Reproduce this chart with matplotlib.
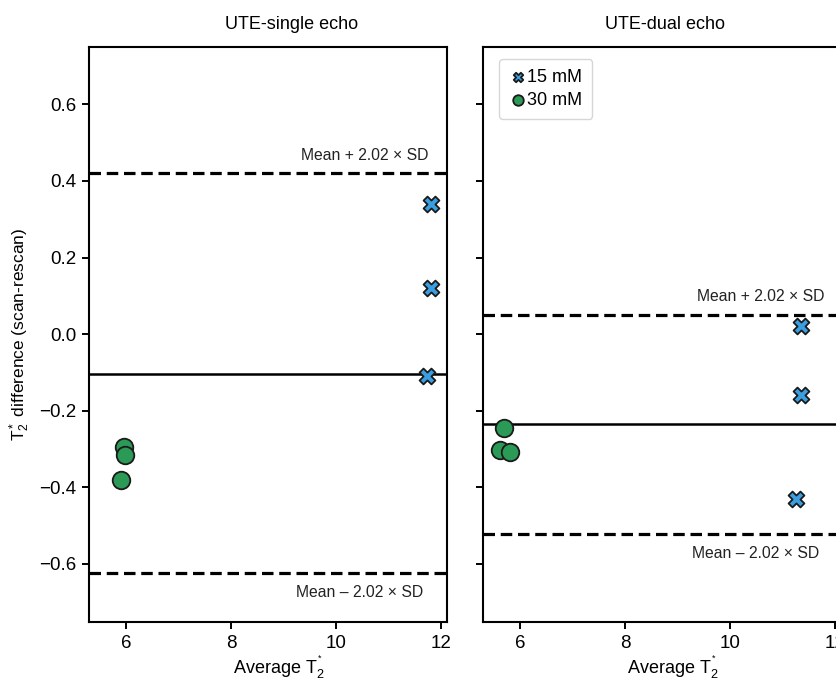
import matplotlib
matplotlib.use("Agg")
import matplotlib.pyplot as plt

plt.rcParams["font.family"] = ["Liberation Sans", "DejaVu Sans"]
plt.rcParams["mathtext.fontset"] = "custom"
plt.rcParams["mathtext.rm"] = "Liberation Sans"
plt.rcParams["mathtext.it"] = "Liberation Sans:italic"
plt.rcParams["mathtext.default"] = "regular"

# --- data ---
panel_titles = ["UTE-single echo", "UTE-dual echo"]
series_labels = ["15 mM", "30 mM"]

single_15_x = [11.81, 11.81, 11.73]
single_15_y = [0.34, 0.12, -0.11]
single_30_x = [5.96, 5.98, 5.90]
single_30_y = [-0.295, -0.315, -0.38]

dual_15_x = [11.35, 11.35, 11.26]
dual_15_y = [0.02, -0.16, -0.43]
dual_30_x = [5.70, 5.62, 5.81]
dual_30_y = [-0.245, -0.302, -0.307]

# mean, upper limit, lower limit
single_limits = [-0.104, 0.42, -0.625]
dual_limits = [-0.235, 0.05, -0.522]

x_ticks = [6, 8, 10, 12]
y_ticks = [-0.6, -0.4, -0.2, 0.0, 0.2, 0.4, 0.6]

blue = "#3a9ee0"
green = "#2b9a57"
edge = "#1a1a1a"

fig = plt.figure(figsize=(8.36, 6.81), dpi=100)
ax1 = fig.add_axes([0.1065, 0.0866, 0.428, 0.8444])
ax2 = fig.add_axes([0.5778, 0.0866, 0.428, 0.8444])

panels = [
    (ax1, single_15_x, single_15_y, single_30_x, single_30_y, single_limits, 0.567),
    (ax2, dual_15_x, dual_15_y, dual_30_x, dual_30_y, dual_limits, 0.508),
]

for i, (ax, x15, y15, x30, y30, lims, tx) in enumerate(panels):
    mean, upper, lower = lims
    ax.axhline(mean, color="black", lw=1.8, zorder=1)
    ax.axhline(upper, color="black", lw=2.3, ls=(0, (3.6, 1.8)), zorder=1)
    ax.axhline(lower, color="black", lw=2.3, ls=(0, (3.6, 1.8)), zorder=1)

    ax.scatter(x15, y15, marker="X", s=130, c=blue, edgecolors=edge,
               linewidths=1.3, zorder=3, label=series_labels[0])
    ax.scatter(x30, y30, marker="o", s=160, c=green, edgecolors=edge,
               linewidths=1.3, zorder=3, label=series_labels[1])

    xr = 0.95 if i == 0 else 0.955
    xl = 0.933 if i == 0 else 0.939
    ax.annotate("Mean + 2.02 \u00d7 SD", xy=(xr, upper),
                xycoords=("axes fraction", "data"), xytext=(0, 13),
                textcoords="offset points", ha="right", va="center",
                fontsize=11.3, color="#222222")
    ax.annotate("Mean \u2013 2.02 \u00d7 SD", xy=(xl, lower),
                xycoords=("axes fraction", "data"), xytext=(0, -14),
                textcoords="offset points", ha="right", va="center",
                fontsize=11.3, color="#222222")

    ax.set_xlim(5.3, 12.11)
    ax.set_ylim(-0.752, 0.75)
    ax.set_xticks(x_ticks)
    ax.set_yticks(y_ticks)
    ax.tick_params(direction="out", length=5, width=1.4, labelsize=13.5,
                   colors="black", pad=4)
    for sp in ax.spines.values():
        sp.set_linewidth(1.5)

    ax.set_title(panel_titles[i], fontsize=13, x=tx, pad=13)
    ax.set_xlabel("Average T$_2^{^*}$", fontsize=13)
    ax.xaxis.set_label_coords(0.53, -0.056)

ax1.set_yticklabels([f"{v:.1f}".replace("-", "\u2212") for v in y_ticks])
ax2.set_yticklabels([])
ax1.set_ylabel("T$^*_2$ difference (scan-rescan)", fontsize=12.5)
ax1.yaxis.set_label_coords(-0.16, 0.5)

leg = ax2.legend(loc="upper left", fontsize=13, handletextpad=0.0,
                 handlelength=1.0, borderpad=0.55, labelspacing=0.35,
                 markerscale=0.6, frameon=True, fancybox=True,
                 bbox_to_anchor=(0.02, 0.995))
leg.get_frame().set_edgecolor("#cccccc")
leg.get_frame().set_linewidth(1.0)

fig.savefig("out.png", dpi=100)
